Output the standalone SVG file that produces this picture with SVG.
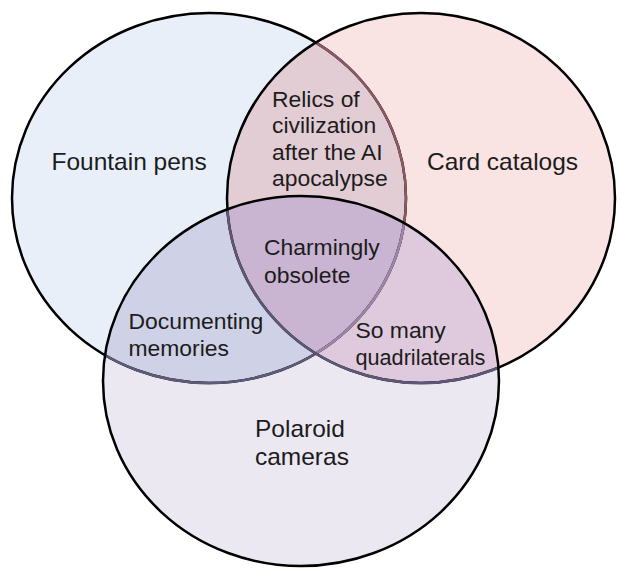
<svg xmlns="http://www.w3.org/2000/svg" width="620" height="569" viewBox="0 0 620 569">
<style>
  .lbl { font-family: "Liberation Sans", Arial, sans-serif; fill: #1c1c1c; }
  .main { font-size: 23px; }
  .inner { font-size: 21.5px; }
  .edge { fill: none; stroke-width: 2.5; }
</style>
<defs>
  <ellipse id="eL" cx="209" cy="198" rx="197" ry="185"/>
  <ellipse id="eR" cx="421" cy="198" rx="194" ry="185"/>
  <ellipse id="eB" cx="301" cy="381" rx="198" ry="185"/>
  <clipPath id="cL"><use href="#eL"/></clipPath>
  <clipPath id="cR"><use href="#eR"/></clipPath>
  <clipPath id="cB"><use href="#eB"/></clipPath>
</defs>
<rect width="620" height="569" fill="#ffffff"/>

<!-- region fills -->
<g id="regions">
  <use href="#eL" fill="#e8eff8"/>
  <use href="#eR" fill="#f9e3e3"/>
  <use href="#eB" fill="#ebe8f2"/>
  <g clip-path="url(#cL)"><use href="#eR" fill="#e3cdd5"/></g>
  <g clip-path="url(#cL)"><use href="#eB" fill="#cfd1e6"/></g>
  <g clip-path="url(#cR)"><use href="#eB" fill="#dfc9dd"/></g>
  <g clip-path="url(#cL)"><g clip-path="url(#cR)"><use href="#eB" fill="#c9b4d2"/></g></g>
</g>

<!-- outlines -->
<g id="connectors">
  <use href="#eL" class="edge" stroke="#000000"/>
  <g clip-path="url(#cR)"><use href="#eL" class="edge" stroke="#8a5a62"/></g>
  <g clip-path="url(#cB)"><use href="#eL" class="edge" stroke="#5e5a7a"/></g>
  <g clip-path="url(#cR)"><g clip-path="url(#cB)"><use href="#eL" class="edge" stroke="#9c86a6"/></g></g>
  <use href="#eR" class="edge" stroke="#000000"/>
  <g clip-path="url(#cB)"><use href="#eR" class="edge" stroke="#5e5878"/></g>
  <use href="#eB" class="edge" stroke="#000000"/>
</g>

<g id="fountain-pens">
  <text class="lbl main" transform="translate(51.5,169.5) scale(1.065,1)">Fountain pens</text>
</g>
<g id="card-catalogs">
  <text class="lbl main" transform="translate(427,170) scale(1.065,1)">Card catalogs</text>
</g>
<g id="polaroid-cameras">
  <text class="lbl main" transform="translate(255,436.5) scale(1.065,1)"><tspan x="0" y="0">Polaroid</tspan><tspan x="0" y="28.5">cameras</tspan></text>
</g>
<g id="relics">
  <text class="lbl inner" transform="translate(272,106.7) scale(1.065,1)"><tspan x="0" y="0">Relics of</tspan><tspan x="0" y="26.5">civilization</tspan><tspan x="0" y="53">after the AI</tspan><tspan x="0" y="79.5">apocalypse</tspan></text>
</g>
<g id="charmingly-obsolete">
  <text class="lbl inner" transform="translate(264,255) scale(1.065,1)"><tspan x="0" y="0">Charmingly</tspan><tspan x="0" y="28">obsolete</tspan></text>
</g>
<g id="documenting-memories">
  <text class="lbl inner" transform="translate(128.5,329) scale(1.065,1)"><tspan x="0" y="0">Documenting</tspan><tspan x="0" y="27">memories</tspan></text>
</g>
<g id="so-many-quadrilaterals">
  <text class="lbl inner" transform="translate(355.5,338) scale(1.065,1)"><tspan x="0" y="0">So many</tspan><tspan x="0" y="27" textLength="122" lengthAdjust="spacingAndGlyphs">quadrilaterals</tspan></text>
</g>
</svg>
